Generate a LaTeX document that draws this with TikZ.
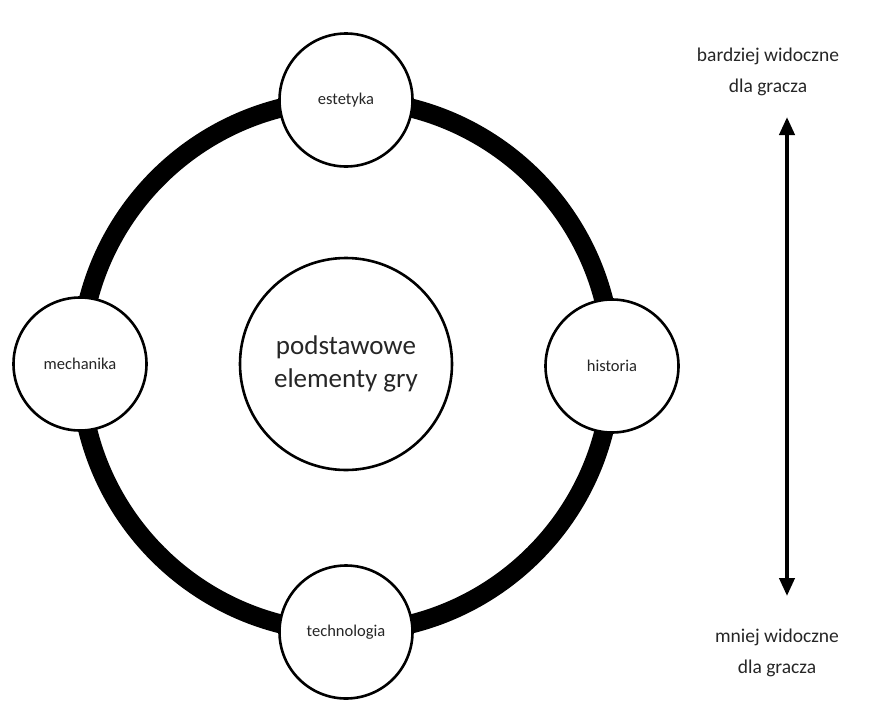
\documentclass[tikz,border=0pt]{standalone}
\usepackage{fontspec}
\setmainfont{Carlito}
\usetikzlibrary{arrows.meta}
\begin{document}
\begin{tikzpicture}[x=1pt,y=-1pt,
  element/.style={circle,draw=black,line width=2.6pt,fill=white,minimum size=133pt,inner sep=0pt,font=\fontsize{16.5}{19}\selectfont,text=black!85},
  core/.style={circle,draw=black,line width=2.6pt,fill=white,minimum size=212pt,inner sep=0pt,align=center,font=\fontsize{27}{33}\selectfont,text=black!85},
  note/.style={align=center,font=\fontsize{19.5}{31}\selectfont,text=black!85},
  ring/.style={line width=19pt,draw=black},
  visarrow/.style={line width=4pt,{Triangle[width=15pt,length=18pt]}-{Triangle[width=15pt,length=18pt]}}]
  % page frame
  \useasboundingbox (0,0) rectangle (884,718);
  % the thick ring joining the four elements
  \coordinate (c) at (346,366);
  \draw[ring] (c) circle[radius=266];
  % core and the four elements on the ring
  \node[core] (core) at (346,364) {podstawowe\\elementy gry};
  \node[element] (est) at (346,100) {estetyka};
  \node[element] (mech) at (80,364) {mechanika};
  \node[element] (hist) at (612,366) {historia};
  \node[element] (tech) at (346,632) {technologia};
  % visibility scale on the right
  \node[note] (top) at (768,72) {bardziej widoczne\\dla gracza};
  \node[note] (bot) at (777,653) {mniej widoczne\\dla gracza};
  \coordinate (up) at (787,117);
  \coordinate (down) at (787,596);
  \draw[visarrow] (up) -- (down);
\end{tikzpicture}
\end{document}
